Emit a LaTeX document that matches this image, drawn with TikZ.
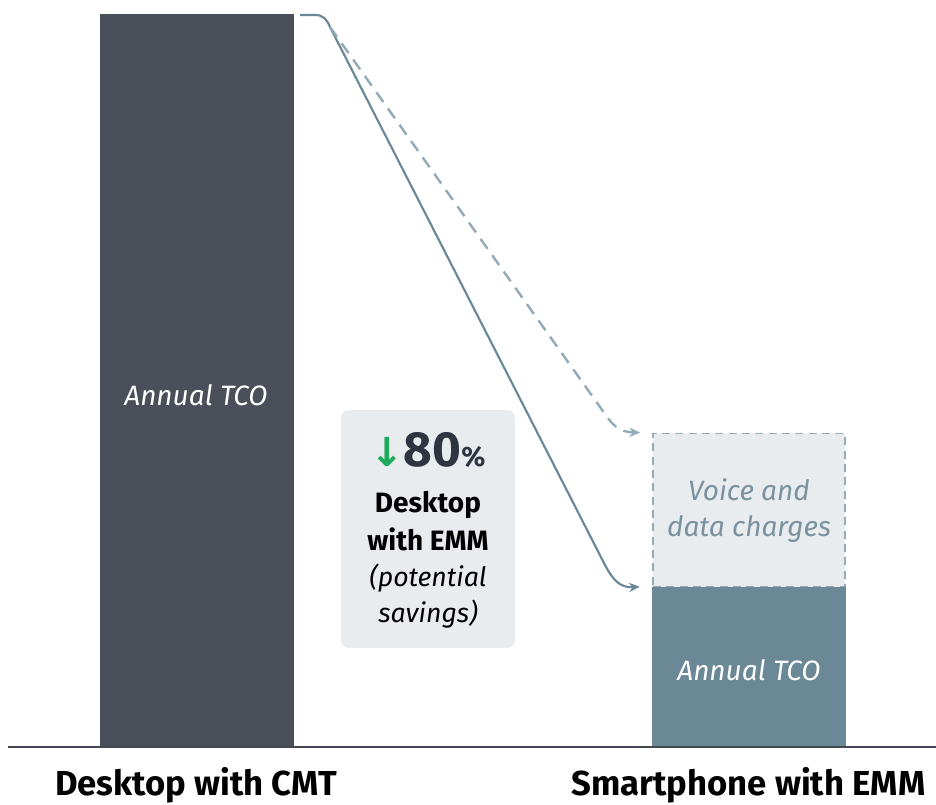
\documentclass[tikz,border=0pt]{standalone}
\usepackage{fontspec}
\setmainfont{Fira Sans}
\newfontfamily\symfont{DejaVu Sans}
\usetikzlibrary{arrows.meta}
\definecolor{barDark}{HTML}{4A4F5A}
\definecolor{barTeal}{HTML}{6A8895}
\definecolor{boxGray}{HTML}{E8ECEF}
\definecolor{dashGray}{HTML}{93AAB6}
\definecolor{textGray}{HTML}{7B929E}
\definecolor{numDark}{HTML}{2E3440}
\definecolor{downGreen}{HTML}{1DAA5C}
\tikzset{
  bar/.style={draw=none, inner sep=0pt, minimum width=194*0.75pt},
  barlabel/.style={font=\fontsize{21}{27}\selectfont\itshape},
  catlabel/.style={font=\fontsize{26}{30}\selectfont\bfseries, text=black},
  flow/.style={line width=1.6pt, barTeal, -{Stealth[length=8pt,width=7pt]}},
  dashflow/.style={line width=1.8pt, dashGray, dash pattern=on 9pt off 6pt, -{Stealth[length=8pt,width=7pt]}}
}
\begin{document}
\begin{tikzpicture}[x=0.75pt,y=-0.75pt]
        \useasboundingbox (0,0) rectangle (936,804);
        % bars
        \node[bar, fill=barDark, minimum height=734*0.75pt] (cmt) at (196.5,381) {};
        \node[bar, fill=barTeal, minimum height=161*0.75pt] (emm) at (749,667.5) {};
        \node[bar, fill=boxGray, draw=dashGray, line width=1.4pt, dash pattern=on 6pt off 4pt, minimum width=192*0.75pt, minimum height=153*0.75pt] (voice) at (749,510) {};
        \draw[line width=1.8pt, numDark!90] (8,747) -- (936,747);
        % texts in the bars
        \node[barlabel, text=white] (cmtlbl) at (196,395) {Annual TCO};
        \node[barlabel, text=white] (emmlbl) at (749,670) {Annual TCO};
        \node[barlabel, text=textGray, align=center] (voicelbl) at (749,511) {Voice and\\data charges};
        % savings box
        \node[fill=boxGray, rounded corners=6pt, minimum width=174*0.75pt, minimum height=238*0.75pt] (save) at (428,529) {};
        \node (pct) at (428,450) {\textcolor{downGreen}{\fontsize{30}{34}\symfont\bfseries ↓}\textcolor{numDark}{\fontsize{37}{40}\selectfont\bfseries 80\fontsize{21}{24}\selectfont\%}};
        \node[align=center, font=\fontsize{21}{28}\selectfont\bfseries] (desk) at (428,521) {Desktop\\with EMM};
        \node[align=center, font=\fontsize{20}{27}\selectfont\itshape] (pot) at (428,596) {(potential\\savings)};
        % categories
        \node[catlabel] (left) at (196,785) {Desktop with CMT};
        \node[catlabel, anchor=east] (right) at (930,785) {Smartphone with EMM};
        % flows
        \coordinate (top) at (300,15);
        \coordinate (split) at (330,27);
        \coordinate (emmin) at ([xshift=-9pt]emm.north west);
        \coordinate (voicein) at ([xshift=-9pt]voice.north west);
        \draw[flow] (top) -- (315,15) .. controls (324,15) and (327,20) .. (split) -- (605,565) .. controls (613,580) and (620,588) .. (emmin);
        \draw[dashflow] (split) -- (605,414) .. controls (613,426) and (620,432) .. (voicein);
    \end{tikzpicture}
\end{document}
